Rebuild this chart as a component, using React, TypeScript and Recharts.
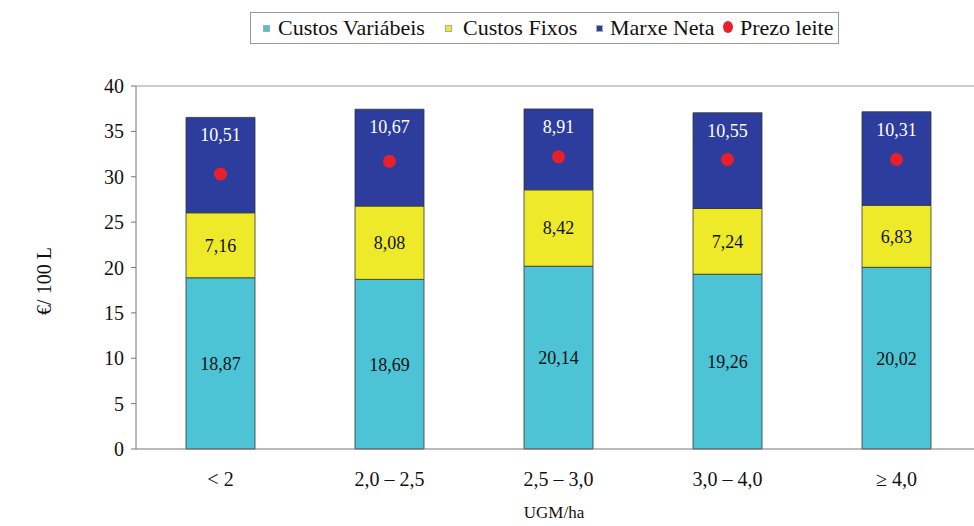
import React from "react";
import { ComposedChart, Bar, Line, XAxis, YAxis, LabelList, ReferenceLine } from "recharts";

const categories = ["< 2", "2,0 – 2,5", "2,5 – 3,0", "3,0 – 4,0", "≥ 4,0"];
const custosVariabeis = [18.87, 18.69, 20.14, 19.26, 20.02];
const custosFixos = [7.16, 8.08, 8.42, 7.24, 6.83];
const marxeNeta = [10.51, 10.67, 8.91, 10.55, 10.31];
const prezoLeite = [30.3, 31.7, 32.2, 31.9, 31.9];
const yTicks = [0, 5, 10, 15, 20, 25, 30, 35, 40];

const data = categories.map((cat, i) => ({
    cat,
    variable: custosVariabeis[i],
    fixed: custosFixos[i],
    margin: marxeNeta[i],
    price: prezoLeite[i],
}));

const FONT = "Liberation Serif, DejaVu Serif, serif";
const CYAN = "#4cc4d6";
const YELLOW = "#eeea2a";
const BLUE = "#2d3d9e";
const RED = "#e8202a";

const fmt = (v: any) => Number(v).toFixed(2).replace(".", ",");

// legend: marker x, text x
const legendItems = [
    { name: "Custos Variábeis", color: CYAN, dot: false, mx: 265, tx: 277 },
    { name: "Custos Fixos", color: YELLOW, dot: false, mx: 447, tx: 462 },
    { name: "Marxe Neta", color: BLUE, dot: false, mx: 598, tx: 609 },
    { name: "Prezo leite", color: RED, dot: true, mx: 727, tx: 739 },
];

const ChartLegend = () => (
    <div
        style={{
            position: "absolute",
            left: 250,
            top: 12,
            width: 589,
            height: 32,
            boxSizing: "border-box",
            border: "1px solid #9a9a9a",
            fontFamily: FONT,
            fontSize: 22,
            color: "#111",
            background: "#fff",
        }}
    >
        {legendItems.map((it) => (
            <React.Fragment key={it.name}>
                <span
                    style={{
                        position: "absolute",
                        left: it.mx - 250 - (it.dot ? 5 : 3),
                        top: it.dot ? 8 : 12,
                        width: it.dot ? 10 : 5,
                        height: it.dot ? 12 : 5,
                        borderRadius: it.dot ? "50%" : 0,
                        background: it.color,
                        border: it.dot ? "none" : "1px solid #aaa",
                    }}
                />
                <span
                    style={{
                        position: "absolute",
                        left: it.tx - 250,
                        top: 1,
                        lineHeight: "28px",
                        whiteSpace: "nowrap",
                    }}
                >
                    {it.name}
                </span>
            </React.Fragment>
        ))}
    </div>
);

const App: React.FC = () => {
    return (
        <div
            style={{
                position: "absolute",
                left: 0,
                top: 0,
                width: 974,
                height: 526,
                overflow: "hidden",
                background: "#fff",
            }}
        >
            <ComposedChart
                width={1000}
                height={526}
                data={data}
                margin={{ top: 86, right: 19, bottom: 37, left: 66 }}
                barSize={69}
            >
                <XAxis
                    dataKey="cat"
                    height={40}
                    axisLine={{ stroke: "#777" }}
                    tickLine={false}
                    tickMargin={17}
                    tick={{ fontFamily: FONT, fontSize: 20, fill: "#111" }}
                    label={{
                        content: () => (
                            <text x={554} y={518} textAnchor="middle" fontFamily={FONT} fontSize={17} fill="#111">
                                UGM/ha
                            </text>
                        ),
                    }}
                />
                <YAxis
                    width={70}
                    domain={[0, 40]}
                    ticks={yTicks}
                    interval={0}
                    axisLine={{ stroke: "#777" }}
                    tickLine={{ stroke: "#777" }}
                    tickSize={5}
                    tickMargin={7}
                    tick={{ fontFamily: FONT, fontSize: 20, fill: "#111" }}
                    label={{
                        content: () => (
                            <text
                                x={51}
                                y={281}
                                transform="rotate(-90 51 281)"
                                textAnchor="middle"
                                fontFamily={FONT}
                                fontSize={20}
                                fill="#111"
                            >
                                €/ 100 L
                            </text>
                        ),
                    }}
                />
                <ReferenceLine y={40} stroke="#999" />
                <Bar dataKey="variable" stackId="a" fill={CYAN} stroke="#333" strokeWidth={0.8} isAnimationActive={false}>
                    <LabelList dataKey="variable" position="center" formatter={fmt} fill="#111" fontFamily={FONT} fontSize={18} />
                </Bar>
                <Bar dataKey="fixed" stackId="a" fill={YELLOW} stroke="#333" strokeWidth={0.8} isAnimationActive={false}>
                    <LabelList dataKey="fixed" position="center" formatter={fmt} fill="#111" fontFamily={FONT} fontSize={18} />
                </Bar>
                <Bar dataKey="margin" stackId="a" fill={BLUE} stroke="#333" strokeWidth={0.8} isAnimationActive={false}>
                    <LabelList
                        dataKey="margin"
                        position="insideTop"
                        offset={11}
                        formatter={fmt}
                        fill="#fff"
                        fontFamily={FONT}
                        fontSize={18}
                    />
                </Bar>
                <Line
                    dataKey="price"
                    stroke="none"
                    strokeWidth={0}
                    dot={{ r: 6.5, fill: RED, stroke: "none" }}
                    activeDot={false}
                    legendType="circle"
                    isAnimationActive={false}
                />
            </ComposedChart>
            <ChartLegend />
        </div>
    );
};

export default App;
